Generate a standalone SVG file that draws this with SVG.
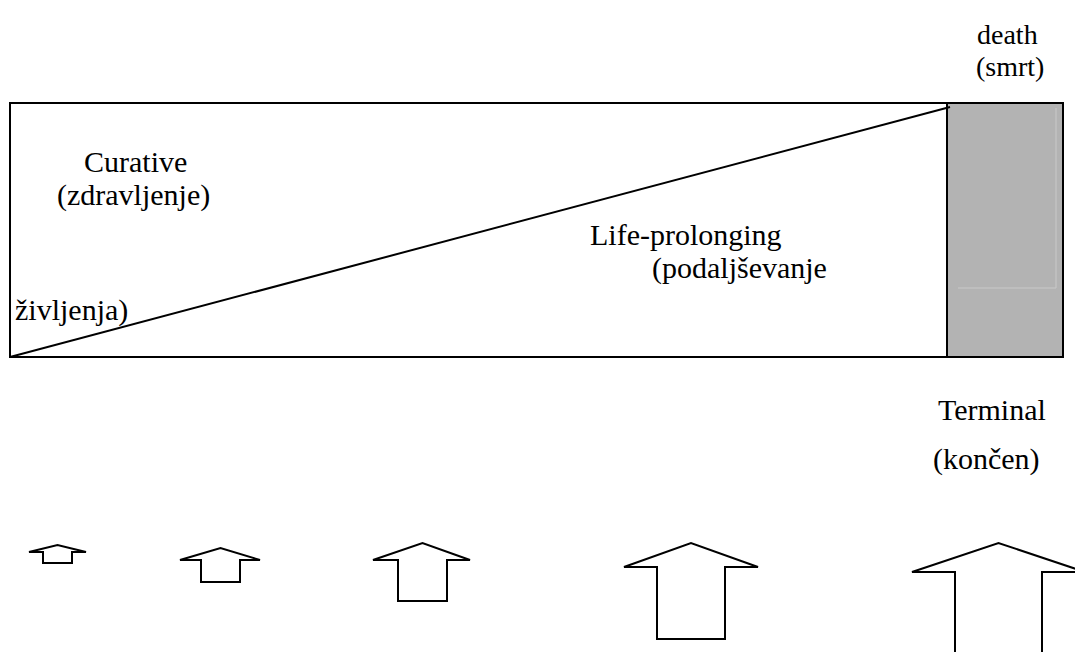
<svg xmlns="http://www.w3.org/2000/svg" width="1075" height="652" viewBox="0 0 1075 652">
<style>
text{font-family:"Liberation Serif","Times New Roman",serif;font-size:30px;fill:#000}
text.s{font-size:28px}
.ln{fill:none;stroke:#000;stroke-width:2}
.arr{fill:#fff;stroke:#000;stroke-width:2;stroke-linejoin:miter}
</style>
<rect width="1075" height="652" fill="#fff"/>
<g id="timeline">
<rect x="10" y="103" width="1053" height="254" class="ln"/>
<rect x="947" y="104" width="115" height="252" fill="#b3b3b3" stroke="none"/>
<line x1="947" y1="103" x2="947" y2="357" stroke="#000" stroke-width="2"/>
<path d="M958 288 H1056 V108" fill="none" stroke="#c9c9c9" stroke-width="1"/>
</g>
<g id="connectors">
<line x1="10" y1="357" x2="950" y2="107" class="ln"/>
</g>
<g id="labels">
<text class="s" x="977" y="44">death</text>
<text class="s" x="976" y="76">(smrt)</text>
<text x="84" y="172">Curative</text>
<text x="57" y="205">(zdravljenje)</text>
<text x="15" y="320">življenja)</text>
<text x="590" y="245">Life-prolonging</text>
<text x="652" y="278">(podaljševanje</text>
<text x="938" y="420">Terminal</text>
<text x="933" y="469">(končen)</text>
</g>
<g id="arrow1"><path class="arr" d="M29 552 L57.5 545 L86 552 H72 V563 H43 V552 Z"/></g>
<g id="arrow2"><path class="arr" d="M180 560 L220.5 548 L260 560 H240 V582 H201 V560 Z"/></g>
<g id="arrow3"><path class="arr" d="M373 560 L422.5 543 L470 560 H447 V601 H398 V560 Z"/></g>
<g id="arrow4"><path class="arr" d="M624 567 L691 543 L758 567 H725 V639 H657 V567 Z"/></g>
<g id="arrow5"><path class="arr" d="M912 572 L998.5 543 L1085 572 H1042 V700 H955 V572 Z"/></g>
</svg>
